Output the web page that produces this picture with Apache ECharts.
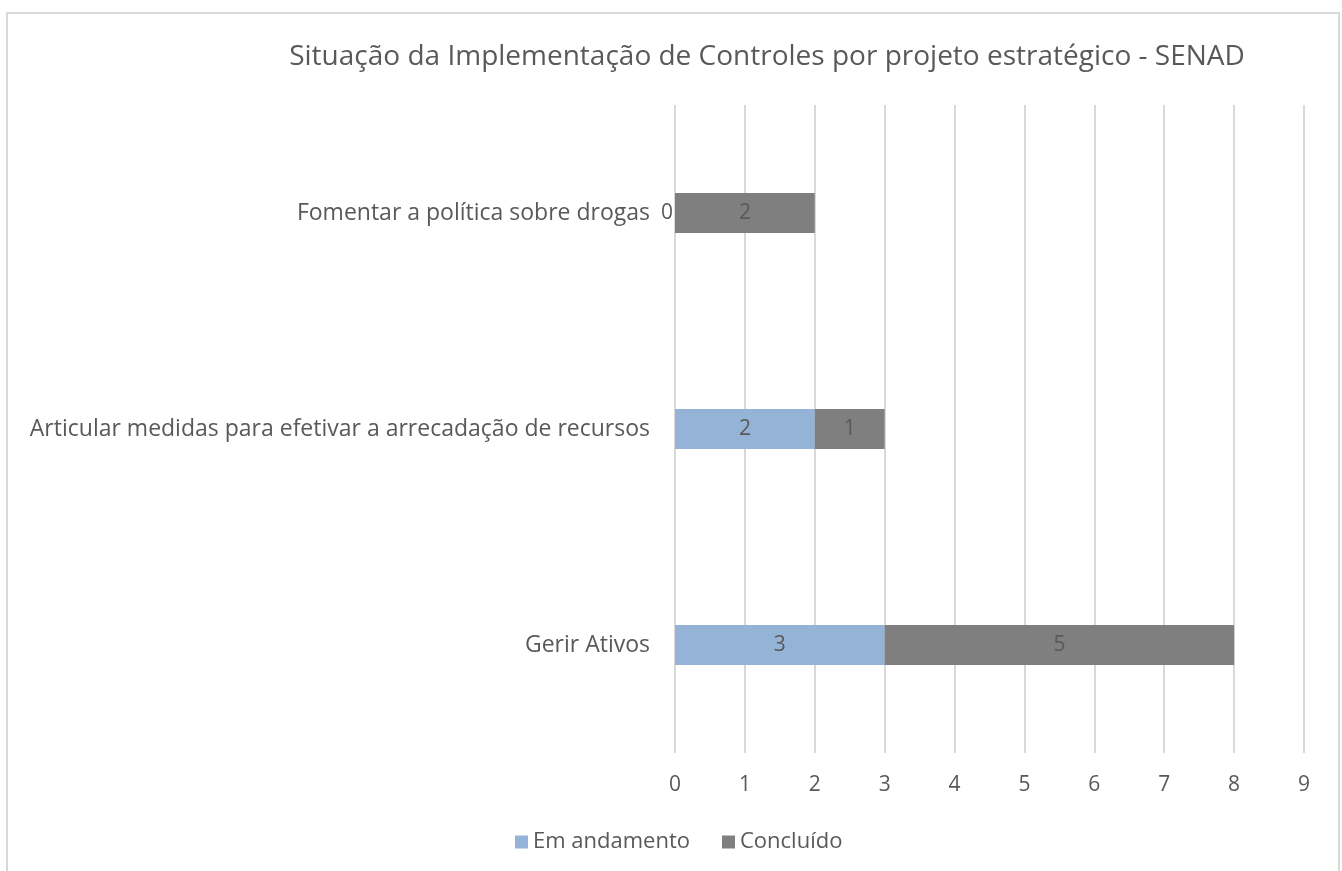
<!DOCTYPE html>
<html>
<head>
<meta charset="utf-8">
<script src="https://cdn.jsdelivr.net/npm/echarts@6/dist/echarts.min.js"></script>
<style>
  html, body { margin: 0; padding: 0; background: #fff; }
  #frame { position: absolute; left: 6px; top: 12px; width: 1330px; height: 900px; border: 2px solid #d9d9d9; }
  #chart { position: absolute; left: 0; top: 0; width: 1342px; height: 871px; }
</style>
</head>
<body>
<div id="frame"></div>
<div id="chart"></div>
<script>
  // dados do gráfico
  const categorias = ['Gerir Ativos', 'Articular medidas para efetivar a arrecadação de recursos', 'Fomentar a política sobre drogas'];
  const emAndamento = [3, 2, 0];
  const concluido = [5, 1, 2];
  const ticks = [0, 1, 2, 3, 4, 5, 6, 7, 8, 9];

  const fonte = '"Open Sans", "Liberation Sans", sans-serif';
  const texto = '#595959';

  function serie(nome, valores, cor) {
    return {
      name: nome,
      type: 'bar',
      stack: 'total',
      barWidth: 40,
      itemStyle: { color: cor },
      label: { show: true, position: 'inside', color: texto, fontSize: 21, fontFamily: fonte },
      data: valores.map(function (v) {
        return v === 0 ? { value: v, label: { position: 'left', distance: 2 } } : v;
      })
    };
  }

  const myChart = echarts.init(document.getElementById('chart'));
  myChart.setOption({
    animation: false,
    textStyle: { fontFamily: fonte },
    title: {
      text: 'Situação da Implementação de Controles por projeto estratégico - SENAD',
      left: 762,
      textAlign: 'center',
      top: 38,
      textStyle: { color: texto, fontSize: 28, fontWeight: 'normal', fontFamily: fonte }
    },
    legend: {
      top: 826,
      left: 510,
      itemWidth: 13,
      itemHeight: 13,
      itemGap: 32,
      icon: 'rect',
      textStyle: { color: texto, fontSize: 22, fontFamily: fonte },
      data: ['Em andamento', 'Concluído']
    },
    grid: { left: 675, right: 38, top: 105, bottom: 118, containLabel: false },
    xAxis: {
      type: 'value',
      min: ticks[0],
      max: ticks[ticks.length - 1],
      interval: 1,
      axisLine: { show: false },
      axisTick: { show: false },
      splitLine: { lineStyle: { color: '#d9d9d9', width: 2 } },
      axisLabel: { color: texto, fontSize: 21, margin: 22, fontFamily: fonte }
    },
    yAxis: {
      type: 'category',
      data: categorias,
      axisLine: { show: false },
      axisTick: { show: false },
      axisLabel: { color: texto, fontSize: 23, margin: 25, fontFamily: fonte }
    },
    series: [
      serie('Em andamento', emAndamento, '#95b3d7'),
      serie('Concluído', concluido, '#7f7f7f')
    ]
  });
</script>
</body>
</html>
